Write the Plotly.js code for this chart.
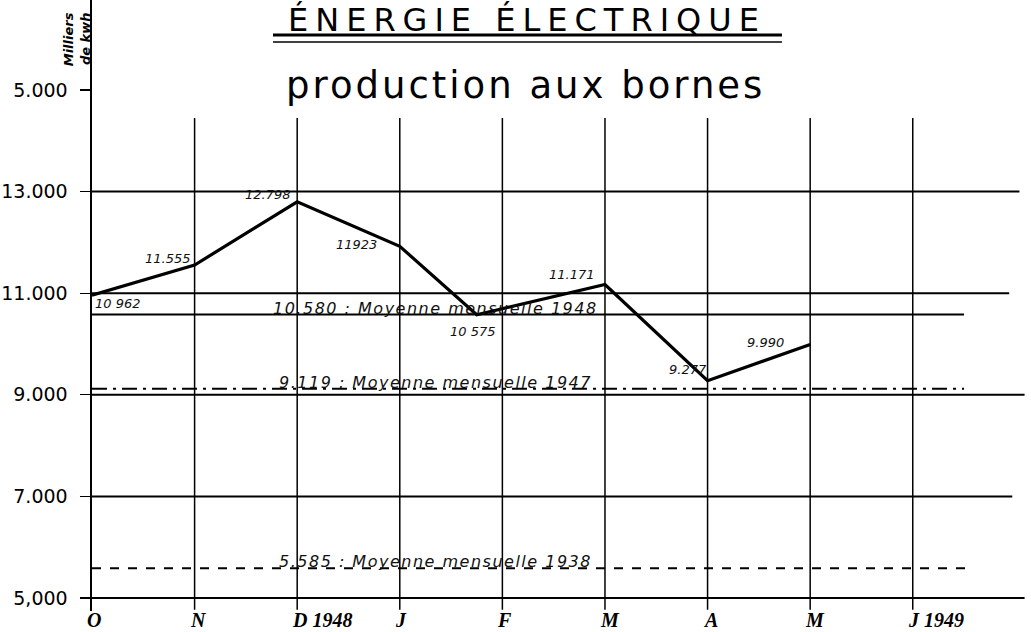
<!DOCTYPE html>
<html>
<head>
<meta charset="utf-8">
<script src="https://cdn.plot.ly/plotly-3.0.1.min.js"></script>
<style>
  html, body { margin: 0; padding: 0; background: #fff; }
  #chart { width: 1031px; height: 632px; }
</style>
</head>
<body>
<div id="chart"></div>
<script>
// ---- data ----
const monthLabels = ['O', 'N', 'D 1948', 'J', 'F', 'M', 'A', 'M', 'J 1949'];
const monthPositions = [0, 1, 2, 3, 4, 5, 6, 7, 8];
const pointPositions = [0, 1, 2, 3, 3.75, 5, 6, 7];
const production = [10962, 11555, 12798, 11923, 10575, 11171, 9277, 9990];
const productionLabels = ['10 962', '11.555', '12.798', '11923', '10 575', '11.171', '9.277', '9.990'];
const yTickValues = [5000, 7000, 9000, 11000, 13000, 15000];
const yTickLabels = ['5,000', '7.000', '9.000', '11.000', '13.000', '5.000'];
const gridValues = [5000, 7000, 9000, 11000, 13000];
const averageValues = [10580, 9119, 5585];
const averageLabels = [
  '10.580 : Moyenne mensuelle 1948',
  '9.119 : Moyenne mensuelle 1947',
  '5.585 : Moyenne mensuelle 1938'
];
const titleText = 'ÉNERGIE ÉLECTRIQUE';
const subtitleText = 'production aux bornes';
const unitText = 'Milliers<br>de kwh';

// ---- styling / placement (not data) ----
const X_MAX = 9.094;
const Y_RANGE = [4744, 16772];
const gridEnds = [9.09, 8.97, 9.09, 8.94, 9.04];
const averageDash = ['solid', 'longdashdot', 'dash'];
const averageEnds = [8.5, 8.5, 8.55];
const labelShifts = [[26, -8], [-27, 7], [-29, 7], [-43, 2], [-4, -17], [-33, 10], [-20, 11], [-45, 2]];
const spaced = (t, px) => '<span style="letter-spacing:' + px + 'px">' + t + '</span>';

const shapes = [];
gridValues.forEach((v, i) => {
  shapes.push({ type: 'line', xref: 'x', yref: 'y', x0: 0, x1: gridEnds[i], y0: v, y1: v,
    line: { color: '#000', width: 2 }, layer: 'below' });
});
monthPositions.slice(1).forEach(p => {
  shapes.push({ type: 'line', xref: 'x', yref: 'y', x0: p, x1: p, y0: 4770, y1: 14450,
    line: { color: '#000', width: 1.5 }, layer: 'below' });
});
averageValues.forEach((v, i) => {
  shapes.push({ type: 'line', xref: 'x', yref: 'y', x0: 0, x1: averageEnds[i], y0: v, y1: v,
    line: { color: '#000', width: 2, dash: averageDash[i] }, layer: 'below' });
});
shapes.push({ type: 'line', xref: 'paper', yref: 'y', x0: 0.194, x1: 0.7395, y0: 16083, y1: 16083,
  line: { color: '#000', width: 3 } });
shapes.push({ type: 'line', xref: 'paper', yref: 'y', x0: 0.194, x1: 0.7395, y0: 15945, y1: 15945,
  line: { color: '#000', width: 1.5 } });

const annotations = [];
production.forEach((v, i) => {
  annotations.push({ x: pointPositions[i], y: v, xref: 'x', yref: 'y', text: productionLabels[i],
    showarrow: false, xshift: labelShifts[i][0], yshift: labelShifts[i][1],
    font: { family: 'DejaVu Sans', size: 13, color: '#111', style: 'italic' } });
});
averageValues.forEach((v, i) => {
  annotations.push({ x: 3.35, y: v, xref: 'x', yref: 'y', text: spaced(averageLabels[i], 1.5),
    showarrow: false, yanchor: 'bottom', yshift: -5,
    font: { family: 'DejaVu Sans', size: 16, color: '#111', style: 'italic' } });
});
monthLabels.forEach((t, i) => {
  annotations.push({ x: monthPositions[i], y: 0, xref: 'x', yref: 'paper', text: t,
    showarrow: false, xanchor: 'left', yanchor: 'top', xshift: -7, yshift: 4,
    font: { family: 'Liberation Serif', size: 20, color: '#000', style: 'italic', weight: 'bold' } });
});
annotations.push({ x: 0.466, y: 15970, xref: 'paper', yref: 'y', text: spaced(titleText, 7), showarrow: false,
  xanchor: 'center', yanchor: 'bottom', font: { family: 'DejaVu Sans', size: 32, color: '#000' } });
annotations.push({ x: 0.465, y: 14626, xref: 'paper', yref: 'y', text: spaced(subtitleText, 3), showarrow: false,
  xanchor: 'center', yanchor: 'bottom', font: { family: 'DejaVu Sans', size: 37, color: '#000' } });
annotations.push({ x: -0.016, y: 16000, xref: 'paper', yref: 'y', text: unitText, showarrow: false,
  textangle: -90, align: 'right', xanchor: 'center', yanchor: 'middle',
  font: { family: 'DejaVu Sans', size: 13, color: '#000', style: 'italic', weight: 'bold' } });

const trace = {
  x: pointPositions,
  y: production,
  type: 'scatter',
  mode: 'lines',
  line: { color: '#000', width: 3.2 },
  cliponaxis: false,
  hoverinfo: 'skip'
};

const layout = {
  width: 1031,
  height: 632,
  margin: { l: 92, r: 6, t: 0, b: 21, pad: 0 },
  paper_bgcolor: '#fff',
  plot_bgcolor: '#fff',
  showlegend: false,
  xaxis: {
    range: [0, X_MAX],
    showgrid: false, zeroline: false, showticklabels: false, ticks: '',
    showline: false, fixedrange: true
  },
  yaxis: {
    range: Y_RANGE,
    tickvals: yTickValues,
    ticktext: yTickLabels,
    ticks: 'outside', ticklen: 10, tickwidth: 1.2, tickcolor: '#000',
    ticklabelstandoff: 8,
    tickfont: { family: 'DejaVu Sans', size: 19, color: '#000' },
    showgrid: false, zeroline: false,
    showline: true, linecolor: '#000', linewidth: 2.5,
    fixedrange: true
  },
  shapes: shapes,
  annotations: annotations
};

Plotly.newPlot('chart', [trace], layout, { displayModeBar: false, staticPlot: true });
</script>
</body>
</html>
